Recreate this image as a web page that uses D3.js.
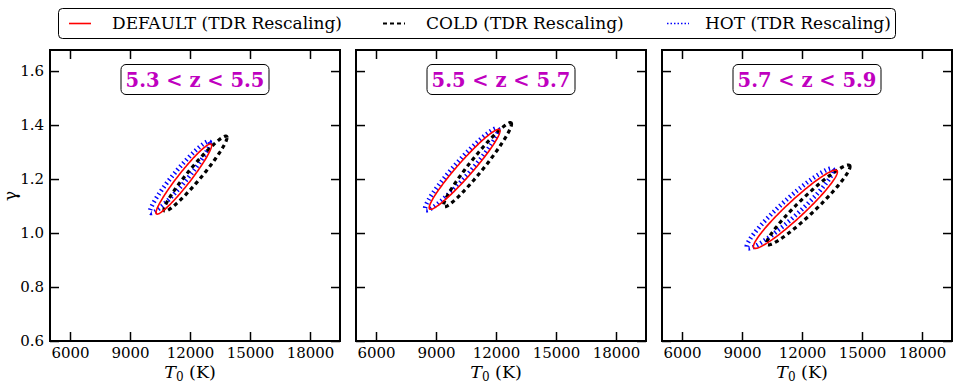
<!DOCTYPE html>
<html><head><meta charset="utf-8">
<script src="https://cdn.jsdelivr.net/npm/d3@7"></script>
<style>body{margin:0;background:#fff}svg{display:block}</style>
</head><body>
<script>
// ---- data ----
const panelLabels = ["5.3 < z < 5.5", "5.5 < z < 5.7", "5.7 < z < 5.9"];
const xTicks = [6000, 9000, 12000, 15000, 18000];
const yTicks = [0.6, 0.8, 1.0, 1.2, 1.4, 1.6];
const seriesNames = ["DEFAULT (TDR Rescaling)", "COLD (TDR Rescaling)", "HOT (TDR Rescaling)"];
// ellipse centres (T0, gamma), half-extents and correlation, per panel
const defaultT = [11690, 10430, 11670];
const defaultG = [1.200, 1.236, 1.088];
const defaultDT = [1390, 1770, 2100];
const defaultDG = [0.130, 0.148, 0.145];
const defaultRho = [0.958, 0.960, 0.955];
const coldT = [12275, 11075, 12317];
const coldG = [1.220, 1.253, 1.104];
const coldDT = [1575, 1700, 2083];
const coldDG = [0.139, 0.156, 0.148];
const coldRho = [0.962, 0.965, 0.958];
const hotT = [11500, 10283, 11400];
const hotG = [1.207, 1.236, 1.091];
const hotDT = [1500, 1833, 2167];
const hotDG = [0.133, 0.152, 0.148];
const hotRho = [0.958, 0.960, 0.955];

const W = 954, H = 385;
const svg = d3.select("body").append("svg").attr("width", W).attr("height", H);
const serif = "'DejaVu Serif', serif";
const panelX = [50, 356, 662], pw = 290, topY = 50, ph = 291;
const magenta = "#bf00bf";

const styles = [
  {name: seriesNames[2], T: hotT, G: hotG, DT: hotDT, DG: hotDG, R: hotRho, color: "#0000ff", width: 4.5, dash: "1.4,3"},
  {name: seriesNames[1], T: coldT, G: coldG, DT: coldDT, DG: coldDG, R: coldRho, color: "#000", width: 3.2, dash: "4,3.5"},
  {name: seriesNames[0], T: defaultT, G: defaultG, DT: defaultDT, DG: defaultDG, R: defaultRho, color: "#ff0000", width: 1.6, dash: null}
];

panelLabels.forEach((lab, i) => {
  const x = d3.scaleLinear().domain([5000, 19500]).range([panelX[i], panelX[i] + pw]);
  const y = d3.scaleLinear().domain([0.6, 1.678]).range([topY + ph, topY]);
  const g = svg.append("g");

  // ellipses
  const ts = d3.range(0, 361, 2).map(d => d * Math.PI / 180);
  styles.forEach(s => {
    const pts = ts.map(t => [
      x(s.T[i] + s.DT[i] * Math.cos(t)),
      y(s.G[i] + s.DG[i] * (s.R[i] * Math.cos(t) + Math.sqrt(1 - s.R[i] * s.R[i]) * Math.sin(t)))
    ]);
    g.append("path").attr("d", d3.line()(pts) + "Z")
      .attr("fill", "none").attr("stroke", s.color).attr("stroke-width", s.width)
      .attr("stroke-dasharray", s.dash);
  });

  // axes with inward ticks
  const tk = 9;
  const bottom = g.append("g").attr("transform", `translate(0,${topY + ph})`)
    .call(d3.axisBottom(x).tickValues(xTicks).tickSize(-tk).tickPadding(6).tickFormat(d3.format("d")));
  const topAx = g.append("g").attr("transform", `translate(0,${topY})`)
    .call(d3.axisTop(x).tickValues(xTicks).tickSize(-tk).tickFormat(""));
  const left = g.append("g").attr("transform", `translate(${panelX[i]},0)`)
    .call(d3.axisLeft(y).tickValues(yTicks).tickSize(-tk).tickPadding(6)
      .tickFormat(i === 0 ? d3.format(".1f") : ""));
  const right = g.append("g").attr("transform", `translate(${panelX[i] + pw},0)`)
    .call(d3.axisRight(y).tickValues(yTicks).tickSize(-tk).tickFormat(""));
  [bottom, topAx, left, right].forEach(a => {
    a.select(".domain").remove();
    a.selectAll(".tick line").attr("stroke", "#000").attr("stroke-width", 1.5);
    a.selectAll("text").attr("font-family", serif).attr("font-size", 15).attr("fill", "#000");
  });
  g.append("rect").attr("x", panelX[i]).attr("y", topY).attr("width", pw).attr("height", ph)
    .attr("fill", "none").attr("stroke", "#000").attr("stroke-width", 2);

  // x label
  const xl = g.append("text").attr("x", panelX[i] + pw / 2 - 5).attr("y", 378)
    .attr("text-anchor", "middle").attr("font-family", serif).attr("font-size", 17.5);
  xl.append("tspan").attr("font-style", "italic").text("T");
  xl.append("tspan").attr("font-size", 12).attr("dy", 3).text("0");
  xl.append("tspan").attr("dy", -3).text(" (K)");

  // panel label box
  const cx = panelX[i] + pw / 2;
  g.append("rect").attr("x", cx - 74).attr("y", 64.5).attr("width", 148).attr("height", 30)
    .attr("rx", 5).attr("fill", "#fff").attr("stroke", "#000").attr("stroke-width", 1);
  g.append("text").attr("x", cx).attr("y", 86.5).attr("text-anchor", "middle")
    .attr("font-family", serif).attr("font-weight", "bold").attr("font-size", 19.5)
    .attr("fill", magenta).text(lab);
});

// y label
svg.append("text").attr("transform", "translate(16,196) rotate(-90)")
  .attr("text-anchor", "middle").attr("font-family", serif).attr("font-size", 17).text("γ");

// legend
const lg = svg.append("g");
lg.append("rect").attr("x", 58.5).attr("y", 8.5).attr("width", 837).attr("height", 30).attr("rx", 4)
  .attr("fill", "#fff").attr("stroke", "#000").attr("stroke-width", 1);
const legItems = [
  {s: styles[2], lx: 69, tx: 112},
  {s: styles[1], lx: 383, tx: 426},
  {s: styles[0], lx: 667, tx: 705}
];
legItems.forEach(it => {
  lg.append("line").attr("x1", it.lx).attr("x2", it.lx + 22).attr("y1", 23.5).attr("y2", 23.5)
    .attr("stroke", it.s.color).attr("stroke-width", it.s === styles[2] ? 1.6 : (it.s === styles[1] ? 2 : 1.5))
    .attr("stroke-dasharray", it.s === styles[1] ? "4,3" : (it.s === styles[0] ? "1.5,2" : null));
  lg.append("text").attr("x", it.tx).attr("y", 29).attr("font-family", serif).attr("font-size", 17)
    .text(it.s.name);
});
</script>
</body></html>
